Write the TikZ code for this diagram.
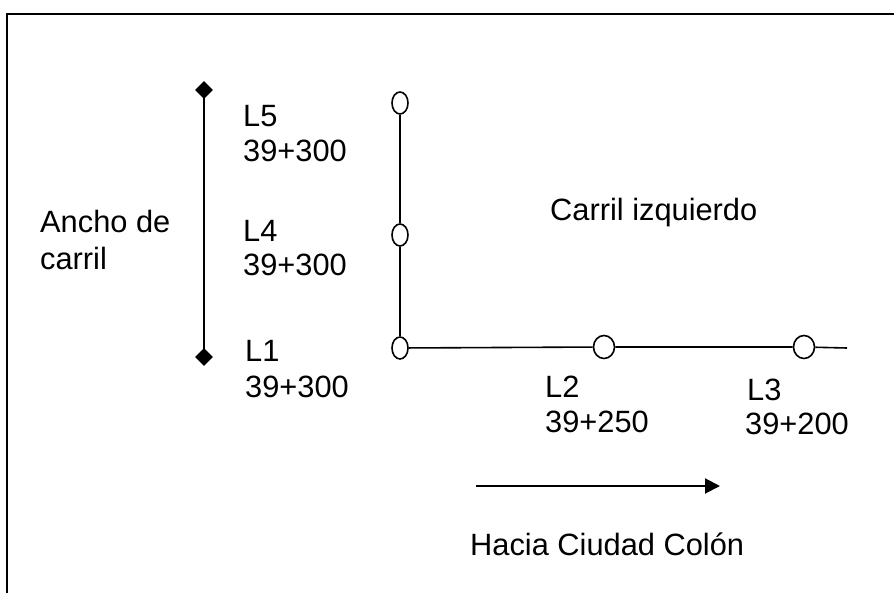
\documentclass[tikz,border=0pt]{standalone}
\usepackage{fontspec}
\setmainfont{Liberation Sans}
\usetikzlibrary{shapes.geometric,arrows.meta}
\begin{document}
\begin{tikzpicture}[x=1pt,y=-1pt,
  lbl/.style={anchor=base west,inner sep=0pt,font=\fontsize{30.8}{35}\selectfont},
  dia/.style={diamond,fill=black,draw=black,inner sep=0pt,minimum size=17pt},
  ovl/.style={ellipse,draw=black,fill=white,line width=1.6pt,inner sep=0pt,minimum width=16pt,minimum height=22pt},
  rnd/.style={ellipse,draw=black,fill=white,line width=1.6pt,inner sep=0pt,minimum width=21pt,minimum height=23pt},
  ln/.style={line width=1.6pt}]
\useasboundingbox (0,0) rectangle (894,593);
% frame
\coordinate (fbl) at (7,600);
\coordinate (ftl) at (7,14);
\coordinate (ftr) at (900,14);
\draw[line width=2.2pt] (fbl) -- (ftl) -- (ftr);
% lane width bracket
\node[dia] (d1) at (204,90) {};
\node[dia] (d2) at (204,357) {};
\draw[ln] (d1.center) -- (d2.center);
\node[dia] at (204,90) {};
\node[dia] at (204,357) {};
% lanes
\node[ovl] (e5) at (400,103) {};
\node[ovl] (e4) at (400,235) {};
\node[ovl] (e1) at (400,348) {};
\node[rnd] (c2) at (604,347) {};
\node[rnd] (c3) at (804,347) {};
\coordinate (hend) at (847,348);
\draw[ln] (e5) -- (e4) -- (e1);
\draw[ln] (e1) -- (c2) -- (c3) -- (hend);
% arrow
\coordinate (a1) at (476,486);
\coordinate (a2) at (720,486);
\draw[line width=2pt,-{Triangle[length=15pt,width=15pt]}] (a1) -- (a2);
% labels
\node[lbl] (t5a) at (243,127) {L5};
\node[lbl] (t5b) at (243,162) {39+300};
\node[lbl] (t4a) at (243,242) {L4};
\node[lbl] (t4b) at (243,276) {39+300};
\node[lbl] (t1a) at (245,362) {L1};
\node[lbl] (t1b) at (245,397) {39+300};
\node[lbl] (t2a) at (545,397) {L2};
\node[lbl] (t2b) at (545,432) {39+250};
\node[lbl] (t3a) at (747,400) {L3};
\node[lbl] (t3b) at (745,434) {39+200};
\node[lbl] (anc1) at (40,233) {Ancho de};
\node[lbl] (anc2) at (40,270) {carril};
\node[lbl] (ci) at (550,221) {Carril izquierdo};
\node[lbl] (hc) at (470,555) {Hacia Ciudad Colón};
\end{tikzpicture}
\end{document}
